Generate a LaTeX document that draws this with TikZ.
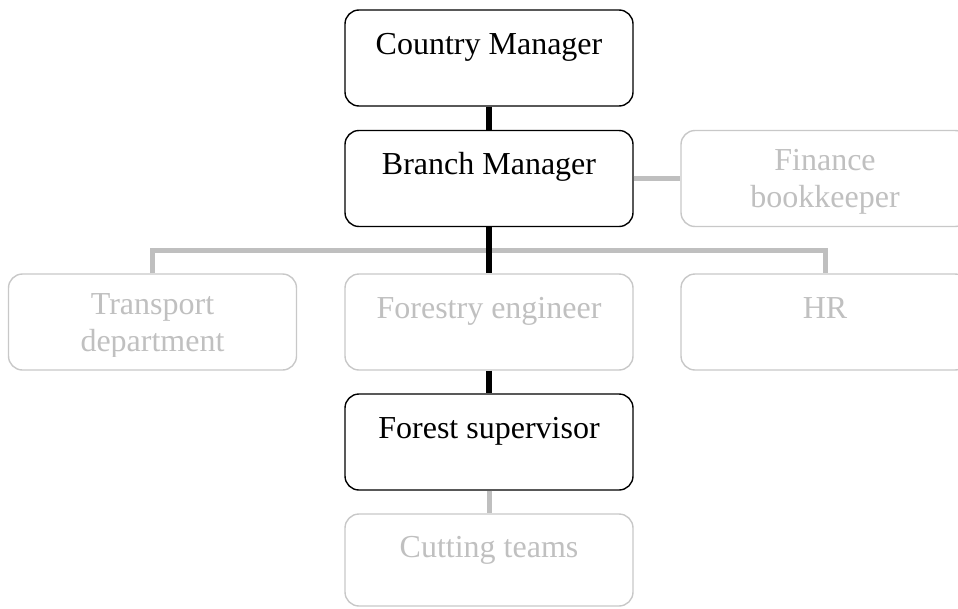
\documentclass[tikz,border=0pt]{standalone}
\usepackage{fontspec}
\setmainfont{Liberation Serif}
\definecolor{boxgray}{RGB}{200,200,200}
\definecolor{textgray}{RGB}{192,192,192}
\definecolor{linegray}{RGB}{191,191,191}
\begin{document}
\begin{tikzpicture}[x=1pt,y=-1pt,
  box/.style={rounded corners=14pt, minimum width=288pt, minimum height=96pt,
              inner sep=0pt, line width=1.4pt, fill=white},
  mainbox/.style={box, draw=black},
  sidebox/.style={box, draw=boxgray},
  boxtext/.style={anchor=base, font=\fontsize{32}{37}\selectfont, align=center, inner sep=0pt},
  maintext/.style={boxtext, text=black},
  sidetext/.style={boxtext, text=textgray},
  mainline/.style={line width=6pt, draw=black},
  sideline/.style={line width=5pt, draw=linegray}]
\useasboundingbox (0,0) rectangle (958,608);
\clip (0,0) rectangle (958,608);

% boxes of the chart
\node[mainbox] (cm) at (489,58) {};
\node[mainbox] (bm) at (489,178.5) {};
\node[sidebox] (fin) at (825,178.5) {};
\node[sidebox] (tr) at (152.5,322) {};
\node[sidebox] (fe) at (489,322) {};
\node[sidebox] (hr) at (825,322) {};
\node[mainbox] (fs) at (489,442) {};
\node[sidebox, minimum height=92pt] (ct) at (489,560) {};

% connectors between the boxes
\coordinate (bus) at (489,250.5);
\draw[sideline] (bm.east) -- (fin.west);
\draw[sideline] (tr.north) |- (bus) -| (hr.north);
\draw[mainline] (cm.south) -- (bm.north);
\draw[mainline] (bm.south) -- (fe.north);
\draw[mainline] (fe.south) -- (fs.north);
\draw[sideline] (fs.south) -- (ct.north);

% labels
\node[maintext] (cm-t) at ([yshift=-45pt]cm.north) {Country Manager};
\node[maintext] (bm-t) at ([yshift=-45pt]bm.north) {Branch Manager};
\node[sidetext] (fe-t) at ([yshift=-45pt]fe.north) {Forestry engineer};
\node[sidetext] (hr-t) at ([yshift=-45pt]hr.north) {HR};
\node[maintext] (fs-t) at ([yshift=-45pt]fs.north) {Forest supervisor};
\node[sidetext] (ct-t) at ([yshift=-44pt]ct.north) {Cutting teams};
% two-line labels: the base anchor sits on the last line
\begin{scope}
  \clip ([yshift=14pt]tr.south west) rectangle (tr.north east);
  \node[sidetext] (tr-t) at ([yshift=-78pt]tr.north) {Transport\\department};
\end{scope}
\begin{scope}
  \clip ([yshift=14pt]fin.south west) rectangle (fin.north east);
  \node[sidetext] (fin-t) at ([yshift=-78pt]fin.north) {Finance\\bookkeeper};
\end{scope}
\end{tikzpicture}
\end{document}
